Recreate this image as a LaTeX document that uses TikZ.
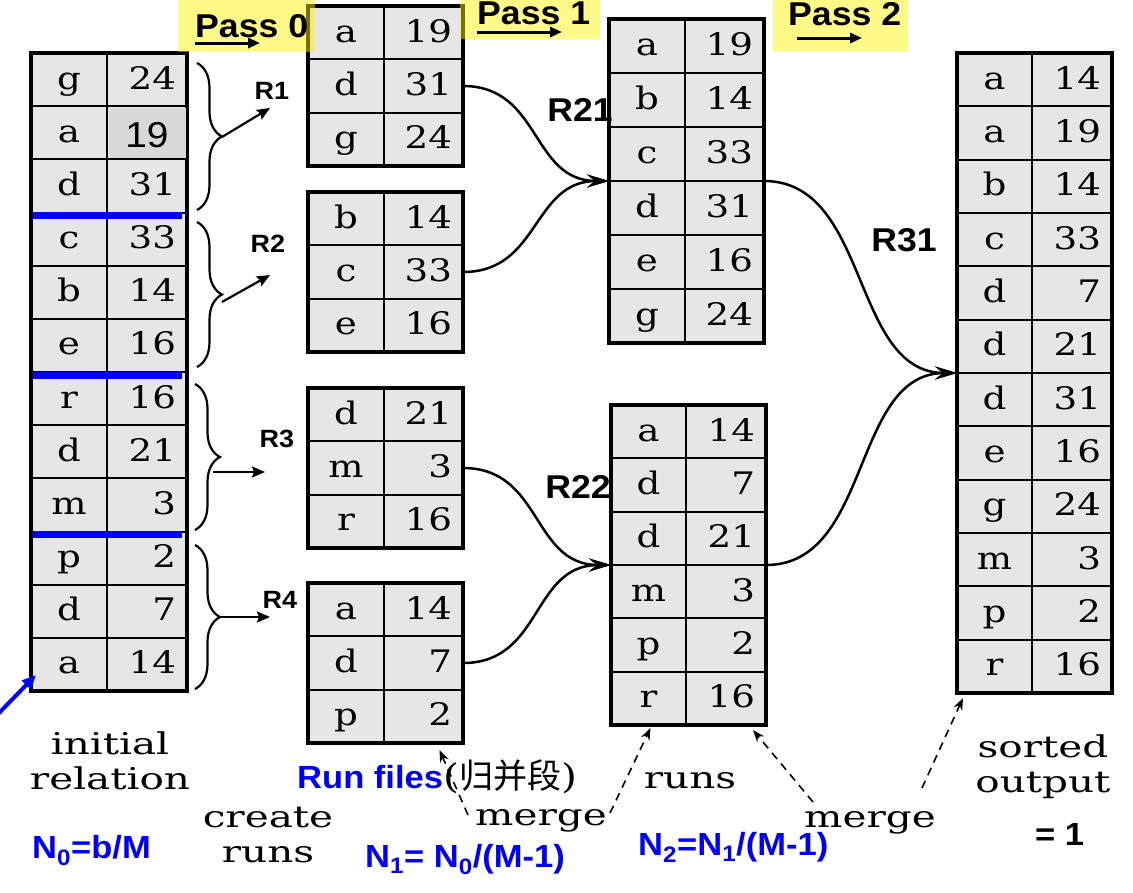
\documentclass[tikz,border=0pt]{standalone}
\usepackage{fontspec}
\usetikzlibrary{arrows.meta,decorations.pathreplacing,calc}
\newfontfamily\arialf{Liberation Sans}[FakeStretch=1.08]
\newfontfamily\tabf{DejaVu Serif}[FakeStretch=1.2]
\newfontfamily\labf{DejaVu Serif}[FakeStretch=1.35]
\newfontfamily\cjkf{Noto Sans CJK SC}
\definecolor{cellgray}{RGB}{230,230,230}
\definecolor{patchgray}{RGB}{216,216,216}
\newcommand{\tabsize}{\tabf\fontsize{31}{36}\selectfont}
\newcommand{\labsize}{\labf\fontsize{30}{35}\selectfont}
\newcommand{\sanssize}{\arialf\bfseries\fontsize{32}{38}\selectfont}
\tikzset{
  keycell/.style={draw=black, line width=2pt, fill=cellgray, outer sep=0pt, inner sep=0pt,
    text height=21pt, text depth=2pt, font=\tabsize},
  valcell/.style={keycell, align=right, inner xsep=11pt},
  tableframe/.style={draw=black, line width=3.5pt},
  flow/.style={line width=2.5pt, -{Stealth[length=22pt,width=13pt,inset=8pt]}},
  bracestyle/.style={decorate, decoration={brace, amplitude=25pt}, line width=2.2pt},
  brarrow/.style={line width=2.2pt, -{Stealth[length=13pt,width=11pt,inset=2pt]}},
  passarrow/.style={line width=3pt, -{Triangle[length=12pt,width=10pt]}},
  dasharrow/.style={line width=1.6pt, dash pattern=on 8pt off 6pt, -{Stealth[length=12pt,width=9pt]}},
  bluearrow/.style={draw=blue, line width=4pt, -{Triangle[length=14pt,width=12pt]}},
  blueline/.style={draw=blue, line width=7pt},
  yellowbox/.style={fill=yellow, fill opacity=0.47},
  serlabel/.style={font=\labsize, inner sep=1pt, align=center},
  rlabel/.style={font=\arialf\bfseries\fontsize{25}{30}\selectfont, inner sep=1pt},
  rbig/.style={font=\arialf\bfseries\fontsize{33}{38}\selectfont, inner sep=1pt},
  passlabel/.style={font=\arialf\bfseries\fontsize{33}{38}\selectfont, inner sep=0pt, anchor=base west},
  bluelabel/.style={font=\sanssize, text=blue, inner sep=0pt, anchor=base west}
}
% #1 name, #2 x left, #3 x split, #4 x right, #5 y top, #6 y bottom, #7 rows, #8 list key/value
\newcommand{\mktable}[8]{%
  \pgfmathsetmacro{\rh}{(#6-#5)/#7}%
  \pgfmathsetmacro{\kw}{#3-#2}%
  \pgfmathsetmacro{\vw}{#4-#3}%
  \pgfmathsetmacro{\tw}{#4-#3-22}%
  \pgfmathsetmacro{\kx}{(#2+#3)/2}%
  \pgfmathsetmacro{\vx}{(#3+#4)/2}%
  \foreach \kk/\vv [count=\ii] in {#8} {%
    \pgfmathsetmacro{\yc}{#5+(\ii-0.5)*\rh}%
    \node[keycell, minimum width=\kw pt, minimum height=\rh pt] (#1-\ii-k) at (\kx,\yc) {\kk};
    \node[valcell, minimum width=\vw pt, minimum height=\rh pt, text width=\tw pt] (#1-\ii-v) at (\vx,\yc) {\vv};
  }%
  \draw[tableframe] (#2,#5) rectangle (#4,#6);
}
\begin{document}
\begin{tikzpicture}[x=1pt,y=-1pt]
\path[use as bounding box] (0,0) rectangle (1133,892);

% tables
\mktable{T0}{31}{107}{187}{53}{691}{12}{g/24,a/{},d/31,c/33,b/14,e/16,r/16,d/21,m/3,p/2,d/7,a/14}
\mktable{R1}{308}{384}{463}{6}{166}{3}{a/19,d/31,g/24}
\mktable{R2}{308}{384}{463}{192}{352}{3}{b/14,c/33,e/16}
\mktable{R3}{308}{384}{463}{388}{548}{3}{d/21,m/3,r/16}
\mktable{R4}{308}{384}{463}{583}{743}{3}{a/14,d/7,p/2}
\mktable{R21}{609}{685}{764}{19}{343}{6}{a/19,b/14,c/33,d/31,e/16,g/24}
\mktable{R22}{611}{686}{766}{405}{725}{6}{a/14,d/7,d/21,m/3,p/2,r/16}
\mktable{F}{957}{1032}{1112}{53}{693}{12}{a/14,a/19,b/14,c/33,d/7,d/21,d/31,e/16,g/24,m/3,p/2,r/16}

% pasted "19" cell
\fill[patchgray] ($(T0-2-v.north west)+(1.5,1.5)$) rectangle ($(T0-2-v.south east)+(-1.5,-1.5)$);
\node[font=\arialf\fontsize{36}{40}\selectfont, inner sep=0pt, anchor=base] (T0-19) at ($(T0-2-v.center)+(0,15)$) {19};

% blue separators
\draw[blueline] ($(T0-3-k.south west)+(2,3)$) -- ($(T0-3-v.south east)+(-5,3)$);
\draw[blueline] ($(T0-6-k.south west)+(2,3)$) -- ($(T0-6-v.south east)+(-5,3)$);
\draw[blueline] ($(T0-9-k.south west)+(2,3)$) -- ($(T0-9-v.south east)+(-5,3)$);

% braces and run arrows
\draw[bracestyle] (197,63) -- (197,210);
\draw[bracestyle] (197,222) -- (197,367);
\draw[bracestyle] (195,384) -- (195,530);
\draw[bracestyle] (195,545) -- (195,689);
\coordinate (b1s) at (222,137); \coordinate (b1e) at (270,108);
\coordinate (b2s) at (222,302); \coordinate (b2e) at (270,275);
\coordinate (b3s) at (213,472); \coordinate (b3e) at (265,472);
\coordinate (b4s) at (220,617); \coordinate (b4e) at (270,617);
\draw[brarrow] (b1s) -- (b1e);
\draw[brarrow] (b2s) -- (b2e);
\draw[brarrow] (b3s) -- (b3e);
\draw[brarrow] (b4s) -- (b4e);
\node[rlabel] (lR1) at (272,91) {R1};
\node[rlabel] (lR2) at (268,244) {R2};
\node[rlabel] (lR3) at (277,439) {R3};
\node[rlabel] (lR4) at (280,600) {R4};

% merge flows
\draw[flow] (R1-2-v.east) to[out=0,in=180,looseness=1.15] (R21-3-k.south west);
\draw[flow] (R2-2-v.east) to[out=0,in=180,looseness=1.15] (R21-3-k.south west);
\draw[flow] (R3-2-v.east) to[out=0,in=180,looseness=1.15] (R22-3-k.south west);
\draw[flow] (R4-2-v.east) to[out=0,in=180,looseness=1.15] (R22-3-k.south west);
\draw[flow] (R21-3-v.south east) to[out=0,in=180,looseness=1.0] (F-6-k.south west);
\draw[flow] (R22-3-v.south east) to[out=0,in=180,looseness=1.0] (F-6-k.south west);
\node[rbig] (lR21) at (580,110) {R21};
\node[rbig] (lR22) at (578,487) {R22};
\node[rbig] (lR31) at (904,240) {R31};

% pass headers
\fill[yellowbox] (178,0) rectangle (315,52);
\fill[yellowbox] (460,0) rectangle (600,39);
\fill[yellowbox] (773,0) rectangle (908,51);
\node[passlabel] (pass0) at (195,37) {Pass 0};
\node[passlabel] (pass1) at (477,24) {Pass 1};
\node[passlabel] (pass2) at (788,25) {Pass 2};
\coordinate (p0a) at (195,43); \coordinate (p0b) at (260,43);
\coordinate (p1a) at (477,32); \coordinate (p1b) at (562,32);
\coordinate (p2a) at (797,38); \coordinate (p2b) at (862,38);
\draw[passarrow] (p0a) -- (p0b);
\draw[passarrow] (p1a) -- (p1b);
\draw[passarrow] (p2a) -- (p2b);

% bottom labels
\node[serlabel] (initlbl) at (110,761) {initial\\relation};
\node[serlabel] (createlbl) at (268,835) {create\\runs};
\node[serlabel, anchor=base] (runslbl) at (690,788) {runs};
\node[serlabel, anchor=base] (merge1) at (541,825) {merge};
\node[serlabel, anchor=base] (merge2) at (870,827) {merge};
\node[serlabel] (sortlbl) at (1043,767) {sorted\\output};
\node[bluelabel] (runfiles) at (297,788) {Run files{\color{black}\mdseries\tabf\fontsize{34}{38}\selectfont(\cjkf 归并段\tabf)}};
\node[bluelabel] (n0) at (32,858) {N\textsubscript{0}=b/M};
\node[bluelabel] (n1) at (365,867) {N\textsubscript{1}= N\textsubscript{0}/(M-1)};
\node[bluelabel] (n2) at (638,855) {N\textsubscript{2}=N\textsubscript{1}/(M-1)};
\node[bluelabel, text=black] (eq1) at (1035,845) {= 1};

% dashed pointers
\coordinate (d1s) at (468,815);
\coordinate (d2s) at (610,813);
\coordinate (d3s) at (813,802);
\coordinate (d4s) at (922,788);
\draw[dasharrow] (d1s) -- ($(R4-3-v.south)+(16,7)$);
\draw[dasharrow] (d2s) -- ($(R22-6-k.south)+(2,3)$);
\draw[dasharrow] (d3s) -- ($(R22-6-v.south)+(27,5)$);
\draw[dasharrow] (d4s) -- ($(F-12-k.south west)+(6,5)$);

% blue pointer
\coordinate (blues) at (-2,714);
\draw[bluearrow] (blues) -- ($(T0-12-k.south west)+(5,-16)$);
\end{tikzpicture}
\end{document}
